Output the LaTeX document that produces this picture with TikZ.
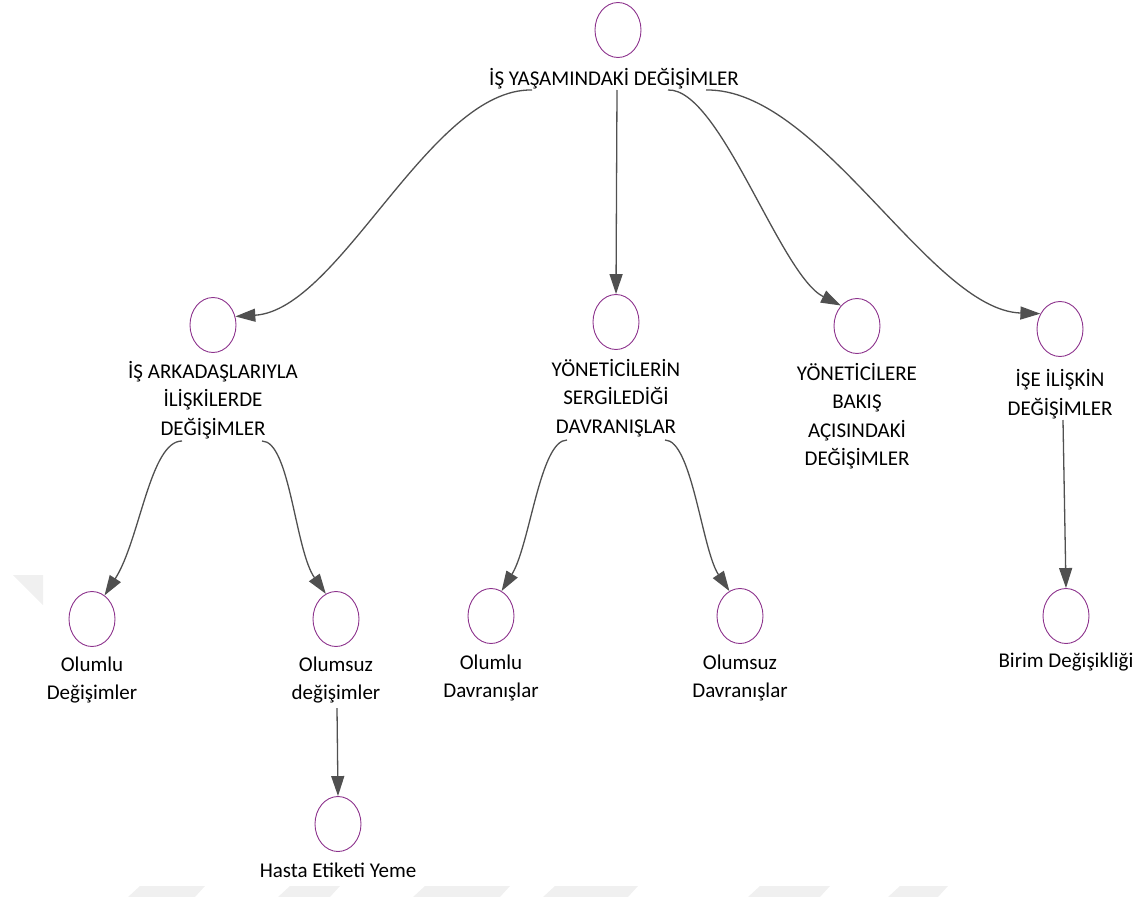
\documentclass[tikz,border=0pt]{standalone}
\usepackage{fontspec}
\setmainfont{Carlito}
\usetikzlibrary{arrows.meta,shapes.geometric}
\definecolor{bubc}{RGB}{140,50,140}
\definecolor{linec}{RGB}{80,80,80}
\definecolor{wmark}{RGB}{240,240,240}
\tikzset{
  bub/.style={ellipse, draw=bubc, line width=0.9pt, minimum width=46pt, minimum height=55pt, inner sep=0pt},
  lbl/.style={align=center, inner sep=0pt, text=black, font=\fontsize{21}{28.5}\selectfont},
  conn/.style={draw=linec, line width=1.3pt, -{Triangle[length=20pt,width=13pt]}},
  wm/.style={fill=wmark, draw=none},
}
\begin{document}
\begin{tikzpicture}[x=1pt,y=-1pt]
\useasboundingbox (0,0) rectangle (1144,897);
% faint watermark pieces
\fill[wm] (13,575) -- (43,575) -- (43,605) -- cycle;
\fill[wm] (140,886) -- (205,886) -- (195,897) -- (128,897) -- cycle;
\fill[wm] (290,886) -- (340,886) -- (330,897) -- (278,897) -- cycle;
\fill[wm] (425,886) -- (510,886) -- (500,897) -- (413,897) -- cycle;
\fill[wm] (555,886) -- (638,886) -- (628,897) -- (543,897) -- cycle;
\fill[wm] (760,886) -- (830,886) -- (820,897) -- (748,897) -- cycle;
\fill[wm] (900,886) -- (948,886) -- (938,897) -- (888,897) -- cycle;

% nodes
\node[bub] (top) at (618,30) {};
\node[lbl] (topl) at (614,79) {İŞ YAŞAMINDAKİ DEĞİŞİMLER};

\node[bub] (A) at (213,325) {};
\node[lbl] (Al) at (213,400) {İŞ ARKADAŞLARIYLA\\İLİŞKİLERDE\\DEĞİŞİMLER};
\node[bub] (B) at (616,322) {};
\node[lbl] (Bl) at (616,398) {YÖNETİCİLERİN\\SERGİLEDİĞİ\\DAVRANIŞLAR};
\node[bub] (C) at (857,326) {};
\node[lbl] (Cl) at (857,416) {YÖNETİCİLERE\\BAKIŞ\\AÇISINDAKİ\\DEĞİŞİMLER};
\node[bub] (D) at (1060,329) {};
\node[lbl] (Dl) at (1060,394) {İŞE İLİŞKİN\\DEĞİŞİMLER};

\node[bub] (n1) at (92,619) {};
\node[lbl] (n1l) at (92,680) {Olumlu\\Değişimler};
\node[bub] (n2) at (336,619) {};
\node[lbl] (n2l) at (336,680) {Olumsuz\\değişimler};
\node[bub] (n6) at (338,824) {};
\node[lbl] (n6l) at (338,870) {Hasta Etiketi Yeme};
\node[bub] (n3) at (491,616) {};
\node[lbl] (n3l) at (491,678) {Olumlu\\Davranışlar};
\node[bub] (n4) at (740,616) {};
\node[lbl] (n4l) at (740,678) {Olumsuz\\Davranışlar};
\node[bub] (n5) at (1066,616) {};
\node[lbl] (n5l) at (1066,662) {Birim Değişikliği};

% start points
\coordinate (s1) at (532,90);
\coordinate (s2) at (617,90);
\coordinate (s3) at (668,90);
\coordinate (s4) at (706,90);
\coordinate (a1) at (182,441);
\coordinate (a2) at (262,441);
\coordinate (b1) at (567,440);
\coordinate (b2) at (665,440);
\coordinate (d1) at (1063,420);
\coordinate (o2) at (337,708);

% connectors
\draw[conn] (s1) .. controls (430,88) and (340,310) .. (A.21);
\draw[conn] (s2) -- (B.90);
\draw[conn] (s3) .. controls (720,88) and (780,275) .. (C.128);
\draw[conn] (s4) .. controls (820,88) and (930,310) .. (D.142);
\draw[conn] (a1) .. controls (150,441) and (140,540) .. (n1.62);
\draw[conn] (a2) .. controls (290,441) and (295,550) .. (n2.112);
\draw[conn] (b1) .. controls (540,440) and (530,545) .. (n3.67);
\draw[conn] (b2) .. controls (692,440) and (702,550) .. (n4.113);
\draw[conn] (d1) -- (n5.90);
\draw[conn] (o2) -- (n6.90);
\end{tikzpicture}
\end{document}
